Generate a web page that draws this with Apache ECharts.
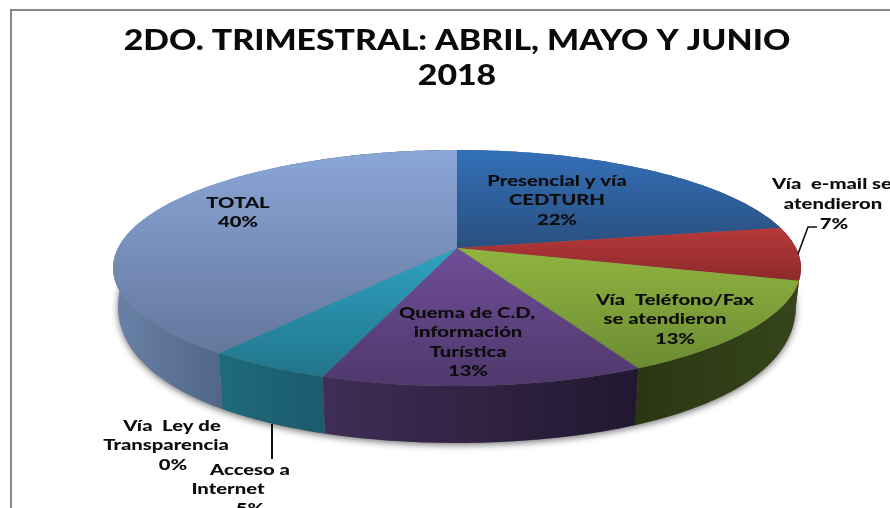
<!DOCTYPE html>
<html>
<head>
<meta charset="utf-8">
<style>html,body{margin:0;padding:0;background:#fff;overflow:hidden}#c{width:890px;height:508px;filter:blur(0.45px)}</style>
<script src="https://cdn.jsdelivr.net/npm/echarts@6/dist/echarts.min.js"></script>
</head>
<body>
<div id="c"></div>
<script>
const titleLines = ['2DO. TRIMESTRAL: ABRIL, MAYO Y JUNIO', '2018'];
const categoryLines = [
  ['Presencial y vía', 'CEDTURH'],
  ['Vía  e-mail se', 'atendieron'],
  ['Vía  Teléfono/Fax', 'se atendieron'],
  ['Quema de C.D,', 'información', 'Turística'],
  ['Acceso a', 'Internet'],
  ['Vía  Ley de', 'Transparencia'],
  ['TOTAL']
];
const values = [22.1, 7.3, 13.1, 12.9, 5, 0, 39.6];

// Styling
const topColors = [
  ['#3370b8', '#2a4f7f'], ['#b8383a', '#8c2a2a'], ['#90b440', '#6c8c32'],
  ['#6f4e98', '#4f386c'], ['#30a3c2', '#20748b'], ['#ccc', '#ccc'], ['#8aa6d8', '#64779c']
];
const sideColors = [
  ['#2a4f7f', '#2a4f7f'], ['#8c2a2a', '#6e2020'], ['#2a3612', '#36451b'],
  ['#3f2d55', '#211830'], ['#1f6a7d', '#1b5a6c'], ['#ccc', '#ccc'], ['#6a82a8', '#1a2a40']
];
// Label anchors: one [x, y] per line, last entry is the percentage
const labelLayout = [
  [[557, 181], [557, 200], [557, 220]],
  [[832, 184], [833, 204], [834, 224]],
  [[675, 300], [665, 319], [675, 339]],
  [[467, 313], [468, 332], [468, 352], [468, 371]],
  [[250, 470], [228, 489], [250, 509]],
  [[172, 426], [166, 445], [173, 465]],
  [[238, 203], [238, 222]]
];
const LABEL_STRETCH = 1.35, TITLE_STRETCH = 1.165;

// Projection of the unit disc (tilted, with perspective)
const CX = 457, CY = 248, A = 339, B = 114.6, K = 0.1695, BASE_SCALE = 0.985;
// Rim depth shrinks towards the back of the disc
function depthAt(w) {
  const q = Math.max(1, 1 / w);
  return 59 - 663 * Math.pow(1.204 - Math.min(q, 1.204), 2);
}
function project(angleDeg, scale, extruded) {
  const t = angleDeg * Math.PI / 180;
  const X = Math.sin(t), Y = Math.cos(t), w = 1 + K * Y;
  return [CX + scale * A * X / w, CY + (extruded ? depthAt(w) : 0) - scale * B * Y / w];
}
const total = values.reduce((s, v) => s + v, 0);
const starts = [];
values.reduce((s, v, i) => (starts[i] = s, s + v), 0);
const range = i => [starts[i] / total * 360, (starts[i] + values[i]) / total * 360];
function arc(a1, a2, scale, extruded) {
  const pts = [], n = Math.max(2, Math.ceil(Math.abs(a2 - a1)));
  for (let i = 0; i <= n; i++) pts.push(project(a1 + (a2 - a1) * i / n, scale, extruded));
  return pts;
}
const grad = (c, h) => new echarts.graphic.LinearGradient(0, 0, h ? 1 : 0, h ? 0 : 1,
  [{offset: 0, color: c[0]}, {offset: 1, color: c[1]}]);

const chart = echarts.init(document.getElementById('c'), null, {renderer: 'canvas'});
chart.setOption({
  animation: false,
  backgroundColor: '#fff',
  graphic: [{
    type: 'rect', silent: true, z: 0,
    shape: {x: 11, y: 10, width: 1000, height: 600},
    style: {fill: 'none', stroke: '#878787', lineWidth: 2}
  }].concat(titleLines.map((t, k) => ({
    type: 'text', silent: true, z: 20,
    x: 457, y: 40.5 + k * 35.5, scaleX: TITLE_STRETCH,
    style: {text: t, align: 'center', verticalAlign: 'middle', fill: '#0a0a0a',
            font: '900 29px "Lato"'}
  }))).concat([{
    type: 'polyline', z: 20, silent: true,
    shape: {points: [[798, 254], [808, 227], [817, 227]]},
    style: {stroke: '#111', lineWidth: 1.6, fill: 'none'}
  }, {
    type: 'line', z: 20, silent: true,
    shape: {x1: 272, y1: 424, x2: 272, y2: 459},
    style: {stroke: '#111', lineWidth: 2}
  }]),
  series: [{
    name: 'shadow', type: 'custom', coordinateSystem: 'none', silent: true, z: 1,
    data: [total],
    renderItem() {
      return {
        type: 'polygon',
        shape: {points: arc(0, 360, BASE_SCALE, true)},
        style: {fill: '#777', shadowBlur: 7, shadowColor: 'rgba(0,0,0,0.55)', shadowOffsetY: 2}
      };
    }
  }, {
    name: 'side', type: 'custom', coordinateSystem: 'none', silent: true, z: 2,
    data: values,
    renderItem(params) {
      const i = params.dataIndex;
      if (!values[i]) return null;
      const [a1, a2] = range(i);
      return {
        type: 'polygon',
        shape: {points: arc(a1, a2, 1, false).concat(arc(a2, a1, BASE_SCALE, true))},
        style: {fill: grad(sideColors[i], true)}
      };
    }
  }, {
    name: 'top', type: 'custom', coordinateSystem: 'none', silent: true, z: 3,
    data: values,
    renderItem(params) {
      const i = params.dataIndex;
      if (!values[i]) return null;
      const [a1, a2] = range(i);
      return {
        type: 'polygon',
        shape: {points: [[CX, CY]].concat(arc(a1, a2, 1, false))},
        style: {fill: grad(topColors[i], false)}
      };
    }
  }, {
    name: 'labels', type: 'custom', coordinateSystem: 'none', silent: true, z: 10,
    data: values,
    renderItem(params) {
      const i = params.dataIndex;
      const lines = categoryLines[i].concat([Math.round(values[i]) + '%']);
      return {
        type: 'group',
        children: lines.map((t, k) => ({
          type: 'text',
          x: labelLayout[i][k][0], y: labelLayout[i][k][1],
          scaleX: LABEL_STRETCH,
          style: {
            text: t, align: 'center', verticalAlign: 'middle', fill: '#0c0c0c',
            font: '900 15px "Lato"'
          }
        }))
      };
    }
  }]
});
</script>
</body>
</html>
